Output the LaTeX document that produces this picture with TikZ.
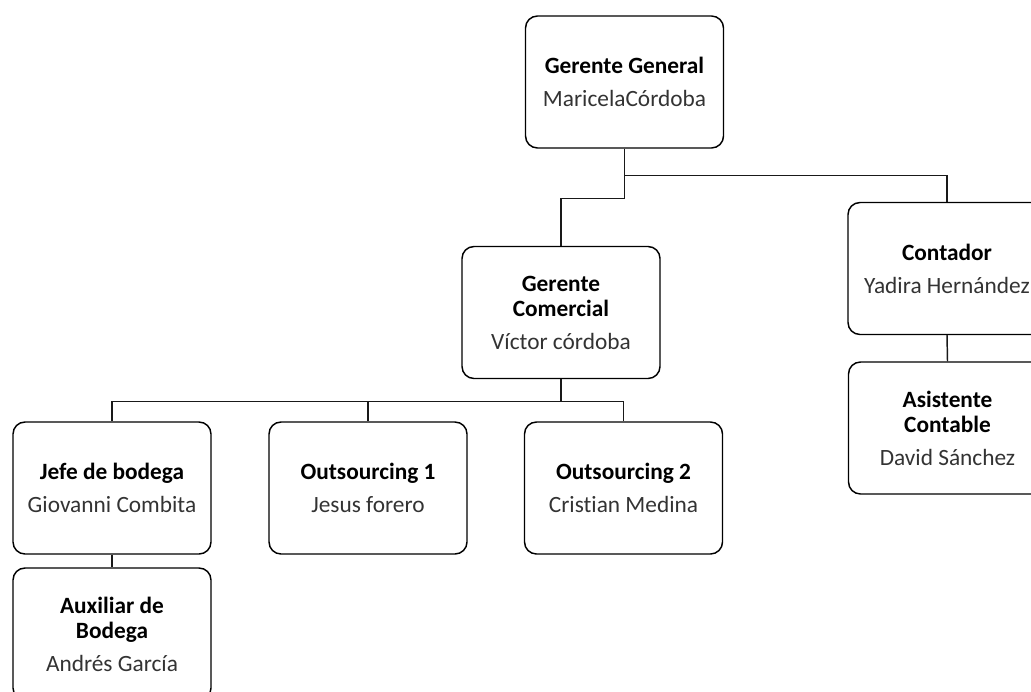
\documentclass[tikz,border=0pt]{standalone}
\usepackage{fontspec}
\setmainfont{Carlito}[Ligatures=NoCommon]
\usepackage{tikz}
\usetikzlibrary{calc}
\usepackage{xcolor}

\begin{document}
\begin{tikzpicture}[x=0.75pt,y=-0.75pt]
	    \tikzstyle{box}=[draw, rounded corners=9pt, line width=1.1pt, minimum width=148.5pt, minimum height=99pt, align=center, inner sep=2pt, font=\fontsize{17.5}{18.75}\selectfont]
	    \tikzstyle{edge}=[draw,line width = 1.1pt,-,black!90]
	    \useasboundingbox (0,0) rectangle (1031,692);
	    \clip (0,0) rectangle (1031,692);
	    \node[box] (gg) at (624.5,82) {\textbf{Gerente General}\\[6pt]\color{black!80}MaricelaCórdoba};
	    \node[box] (gc) at (561,312.5) {\textbf{Gerente}\\\textbf{Comercial}\\[6pt]\color{black!80}Víctor córdoba};
	    \node[box] (cont) at (947,268.5) {\textbf{Contador}\\[6pt]\color{black!80}Yadira Hernández};
	    \node[box] (asis) at (947.5,428) {\textbf{Asistente}\\\textbf{Contable}\\[6pt]\color{black!80}David Sánchez};
	    \node[box] (jefe) at (112,488) {\textbf{Jefe de bodega}\\[6pt]\color{black!80}Giovanni Combita};
	    \node[box] (out1) at (368,488) {\textbf{Outsourcing 1}\\[6pt]\color{black!80}Jesus forero};
	    \node[box] (out2) at (623.5,488) {\textbf{Outsourcing 2}\\[6pt]\color{black!80}Cristian Medina};
	    \node[box] (aux) at (112,634) {\textbf{Auxiliar de}\\\textbf{Bodega}\\[6pt]\color{black!80}Andrés García};
	    \draw[edge] (gg.south) -- ++(0,27) -| (cont.north);
	    \draw[edge] (gg.south) -- ++(0,50) -| (gc.north);
	    \draw[edge] (gc.south) -- ++(0,22) -| (jefe.north);
	    \draw[edge] (gc.south) -- ++(0,22) -| (out1.north);
	    \draw[edge] (gc.south) -- ++(0,22) -| (out2.north);
	    \draw[edge] (cont.south) -- (asis.north);
	    \draw[edge] (jefe.south) -- (aux.north);
	\end{tikzpicture}
\end{document}
